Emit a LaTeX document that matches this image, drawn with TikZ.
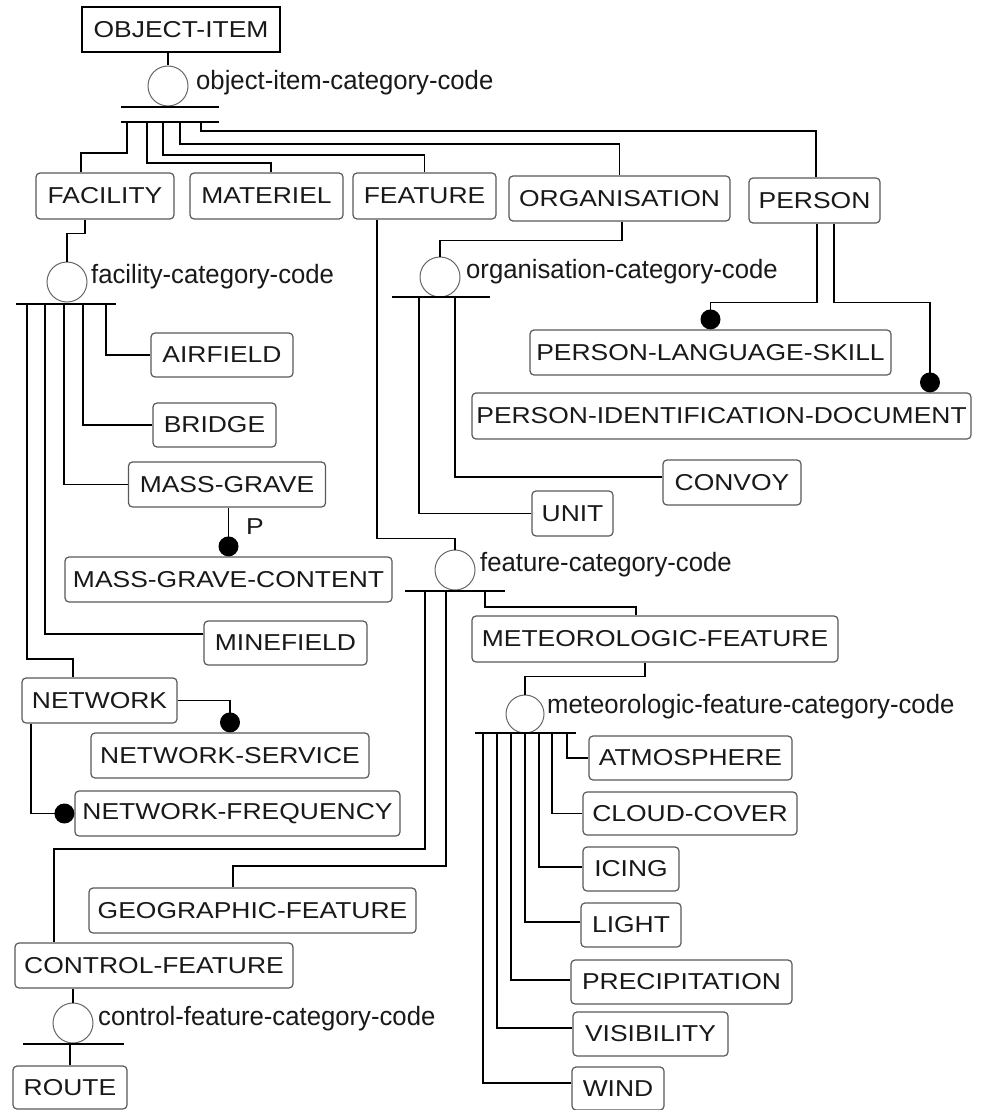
\documentclass[tikz,border=0pt]{standalone}
\usepackage{fontspec}
\setmainfont{Liberation Sans}[FakeStretch=1.15]
\newfontfamily\codefont{Liberation Sans}[FakeStretch=0.97]
\begin{document}
\begin{tikzpicture}[x=1pt,y=-1pt,
  every node/.style={font=\fontsize{23}{27}\selectfont, text=black!90},
  ent/.style={draw=black!65, line width=1.2pt, rounded corners=4pt, inner sep=0pt, fill=white},
  root/.style={draw=black, line width=1.3pt, inner sep=0pt, fill=white},
  link/.style={line width=1.4pt, draw=black},
  disc/.style={circle, draw=black!60, line width=1pt, minimum size=40pt, inner sep=0pt},
  dot/.style={circle, fill=black, minimum size=20pt, inner sep=0pt},
  code/.style={anchor=west, inner sep=0pt, font=\codefont\fontsize{26.5}{30}\selectfont},
]
\useasboundingbox (0,0) rectangle (980,1110);

% ---------- entities ----------
\node[root, minimum width=198pt, minimum height=45pt] (objitem) at (181,29.5) {OBJECT-ITEM};

\node[ent, minimum width=138pt, minimum height=46pt] (facility) at (105,196) {FACILITY};
\node[ent, minimum width=153pt, minimum height=46pt] (materiel) at (266.5,196) {MATERIEL};
\node[ent, minimum width=143pt, minimum height=46pt] (feature) at (424.5,196) {FEATURE};
\node[ent, minimum width=221pt, minimum height=45pt] (organisation) at (619.5,198.5) {ORGANISATION};
\node[ent, minimum width=131pt, minimum height=45pt] (person) at (814.5,200.5) {PERSON};

\node[ent, minimum width=142pt, minimum height=44pt] (airfield) at (222,355) {AIRFIELD};
\node[ent, minimum width=123pt, minimum height=44pt] (bridge) at (214.5,425) {BRIDGE};
\node[ent, minimum width=197pt, minimum height=45pt] (massgrave) at (227,484.5) {MASS-GRAVE};
\node[ent, minimum width=327pt, minimum height=45pt] (mgcontent) at (228.5,579.5) {MASS-GRAVE-CONTENT};
\node[ent, minimum width=163pt, minimum height=44pt] (minefield) at (285.5,643) {MINEFIELD};
\node[ent, minimum width=155pt, minimum height=45pt] (network) at (99.5,700.5) {NETWORK};
\node[ent, minimum width=278pt, minimum height=45pt] (netservice) at (230,755.5) {NETWORK-SERVICE};
\node[ent, minimum width=325pt, minimum height=45pt] (netfreq) at (237.5,813.5) {NETWORK-FREQUENCY};
\node[ent, minimum width=327pt, minimum height=45pt] (geofeature) at (252.5,910.5) {GEOGRAPHIC-FEATURE};
\node[ent, minimum width=278pt, minimum height=45pt] (controlfeature) at (154,965.5) {CONTROL-FEATURE};
\node[ent, minimum width=114pt, minimum height=43pt] (route) at (70,1087.5) {ROUTE};

\node[ent, minimum width=361pt, minimum height=45pt] (pls) at (710.5,352.5) {PERSON-LANGUAGE-SKILL};
\node[ent, minimum width=499pt, minimum height=46pt] (pid) at (721.5,416) {PERSON-IDENTIFICATION-DOCUMENT};
\node[ent, minimum width=138pt, minimum height=45pt] (convoy) at (732,482.5) {CONVOY};
\node[ent, minimum width=81pt, minimum height=45pt] (unit) at (572.5,513.5) {UNIT};

\node[ent, minimum width=366pt, minimum height=46pt] (metfeature) at (655,639) {METEOROLOGIC-FEATURE};
\node[ent, minimum width=203pt, minimum height=44pt] (atmosphere) at (690.5,758) {ATMOSPHERE};
\node[ent, minimum width=214pt, minimum height=43pt] (cloudcover) at (690,813.5) {CLOUD-COVER};
\node[ent, minimum width=96pt, minimum height=44pt] (icing) at (631,869) {ICING};
\node[ent, minimum width=100pt, minimum height=44pt] (light) at (631,925) {LIGHT};
\node[ent, minimum width=221pt, minimum height=44pt] (precipitation) at (681.5,982) {PRECIPITATION};
\node[ent, minimum width=155pt, minimum height=44pt] (visibility) at (650.5,1034) {VISIBILITY};
\node[ent, minimum width=92pt, minimum height=43pt] (wind) at (618,1088.5) {WIND};

% ---------- category discriminators ----------
\node[disc] (oic) at (168,86) {};
\node[code] (oiclabel) at (196,83) {object-item-category-code};
\node[disc] (fcc) at (67,282) {};
\node[code] (fcclabel) at (91,277) {facility-category-code};
\node[disc] (occ) at (440,277) {};
\node[code] (occlabel) at (466,272) {organisation-category-code};
\node[disc] (fecc) at (455,570) {};
\node[code] (fecclabel) at (480,565) {feature-category-code};
\node[disc, minimum size=38pt] (mfcc) at (525,714) {};
\node[code] (mfcclabel) at (547,707) {meteorologic-feature-category-code};
\node[disc] (cfcc) at (73,1023) {};
\node[code] (cfcclabel) at (98,1019) {control-feature-category-code};

% ---------- object-item subtypes (complete: double bar) ----------
\draw[link] (objitem.south -| oic.north) -- (oic.north);
\draw[link] (121,107) -- (219,107);
\draw[link] (121,122) -- (219,122);
\draw[link] (127,122) -- (127,153) -| ([xshift=-24pt]facility.north);
\draw[link] (147,122) -- (147,163) -| ([xshift=4.5pt]materiel.north);
\draw[link] (163,122) -- (163,155) -| (feature.north);
\draw[link] (180,122) -- (180,144) -| (organisation.north);
\draw[link] (201,122) -- (201,131) -| ([xshift=1.5pt]person.north);

% ---------- facility subtypes ----------
\draw[link] ([xshift=-20pt]facility.south) -- ++(0,14) -| (fcc.north);
\draw[link] (16,304) -- (116,304);
\draw[link] (106,304) |- (airfield.west);
\draw[link] (83,304) |- (bridge.west);
\draw[link] (64,304) |- (massgrave.west);
\draw[link] (45,304) |- ([yshift=9pt]minefield.west);
\draw[link] (27,304) -- (27,659) -| ([xshift=-26.5pt]network.north);

% mass grave content
\node[dot] (mgdot) at ([yshift=10pt]mgcontent.north) {};
\draw[link] (mgdot.center) -- (mgdot.center |- massgrave.south);
\node (plabel) at (255,527) {P};

% network dependants
\node[dot] (nsdot) at ([yshift=10pt]netservice.north) {};
\draw[link] (network.east) -| (nsdot.center);
\node[dot] (nfdot) at ([xshift=-10pt]netfreq.west) {};
\draw[link] ([xshift=-68.5pt]network.south) |- (nfdot.center);

% ---------- organisation subtypes ----------
\draw[link] ([xshift=2.5pt]organisation.south) -- ++(0,19) -| (occ.north);
\draw[link] (392,297) -- (490,297);
\draw[link] (455,297) |- ([yshift=5.5pt]convoy.west);
\draw[link] (419,297) |- (unit.west);

% ---------- person dependants ----------
\node[dot] (plsdot) at ([yshift=10pt]pls.north) {};
\node[dot] (piddot) at ([xshift=208.5pt,yshift=10pt]pid.north) {};
\draw[link] ([xshift=2.5pt]person.south) -- ++(0,79) -| (plsdot.center);
\draw[link] ([xshift=19.5pt]person.south) -- ++(0,79) -| (piddot.center);

% ---------- feature subtypes ----------
\draw[link] ([xshift=-47.5pt]feature.south) -- ++(0,319) -| (fecc.north);
\draw[link] (405,591) -- (505,591);
\draw[link] (485,591) -- (485,607) -| ([xshift=-19pt]metfeature.north);
\draw[link] (425,591) -- (425,849) -| ([xshift=-100pt]controlfeature.north);
\draw[link] (446,591) -- (446,866) -| ([xshift=-19.5pt]geofeature.north);

% ---------- meteorologic-feature subtypes ----------
\draw[link] ([xshift=-10pt]metfeature.south) -- ++(0,14) -| (mfcc.north);
\draw[link] (475,733) -- (576,733);
\draw[link] (567,733) |- (atmosphere.west);
\draw[link] (552,733) |- (cloudcover.west);
\draw[link] (539,733) |- ([yshift=2pt]icing.west);
\draw[link] (525,733) |- ([yshift=3pt]light.west);
\draw[link] (511,733) |- ([yshift=2pt]precipitation.west);
\draw[link] (497,733) |- ([yshift=6pt]visibility.west);
\draw[link] (483,733) |- ([yshift=5.5pt]wind.west);

% ---------- control-feature subtypes ----------
\draw[link] (controlfeature.south -| cfcc.north) -- (cfcc.north);
\draw[link] (23,1044) -- (124,1044);
\draw[link] (route.north) -- ++(0,-22);

\end{tikzpicture}
\end{document}
